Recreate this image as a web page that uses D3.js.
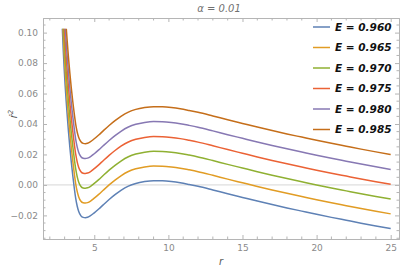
<!DOCTYPE html>
<html>
<head>
<meta charset="utf-8">
<script src="https://cdnjs.cloudflare.com/ajax/libs/d3/7.8.5/d3.min.js"></script>
<style>
  body{margin:0;background:#fff;}
  text{font-family:"DejaVu Sans",sans-serif;}
</style>
</head>
<body>
<div id="grafico"></div>
<script>
// radius values where the curves were read
const rVals=[2.84,2.90,2.96,3.03,3.10,3.18,3.26,3.35,3.45,3.55,3.65,3.75,3.85,3.95,4.10,4.25,4.40,4.55,4.75,5.00,5.30,5.60,6.00,6.40,6.80,7.30,7.80,8.40,9.00,9.60,10.20,10.80,11.40,12,13,14,15,16,17,18,19,20,21,22,23,24,25];

const e960=[0.1040,0.0900,0.0780,0.0660,0.0555,0.0450,0.0350,0.0250,0.0150,0.0060,-0.0020,-0.0090,-0.0140,-0.0175,-0.0203,-0.0213,-0.0215,-0.0212,-0.0202,-0.0183,-0.0158,-0.0131,-0.0096,-0.0064,-0.0036,-0.0008,0.0010,0.0022,0.0028,0.0027,0.0022,0.0014,0.0003,-0.0009,-0.0033,-0.0058,-0.0082,-0.0106,-0.0129,-0.0151,-0.0172,-0.0193,-0.0213,-0.0232,-0.0251,-0.0269,-0.0286];
const e965=[0.1136,0.0996,0.0876,0.0756,0.0651,0.0546,0.0446,0.0346,0.0246,0.0156,0.0076,0.0006,-0.0044,-0.0079,-0.0107,-0.0117,-0.0119,-0.0116,-0.0106,-0.0087,-0.0062,-0.0035,0.0000,0.0032,0.0060,0.0088,0.0106,0.0118,0.0124,0.0123,0.0118,0.0110,0.0099,0.0087,0.0063,0.0038,0.0014,-0.0010,-0.0033,-0.0055,-0.0076,-0.0097,-0.0117,-0.0136,-0.0155,-0.0173,-0.0190];
const e970=[0.1233,0.1093,0.0973,0.0853,0.0748,0.0643,0.0543,0.0443,0.0343,0.0253,0.0173,0.0103,0.0053,0.0018,-0.0010,-0.0020,-0.0022,-0.0019,-0.0009,0.0010,0.0035,0.0062,0.0097,0.0129,0.0157,0.0185,0.0203,0.0215,0.0221,0.0220,0.0215,0.0207,0.0196,0.0184,0.0160,0.0135,0.0111,0.0087,0.0064,0.0042,0.0021,0.0000,-0.0020,-0.0039,-0.0058,-0.0076,-0.0093];
const e975=[0.1330,0.1190,0.1070,0.0950,0.0845,0.0740,0.0640,0.0540,0.0440,0.0350,0.0270,0.0200,0.0150,0.0115,0.0087,0.0077,0.0075,0.0078,0.0088,0.0107,0.0132,0.0159,0.0194,0.0226,0.0254,0.0282,0.0300,0.0312,0.0318,0.0317,0.0312,0.0304,0.0293,0.0281,0.0257,0.0232,0.0208,0.0184,0.0161,0.0139,0.0118,0.0097,0.0077,0.0058,0.0039,0.0021,0.0004];
const e980=[0.1428,0.1288,0.1168,0.1048,0.0943,0.0838,0.0738,0.0638,0.0538,0.0448,0.0368,0.0298,0.0248,0.0213,0.0185,0.0175,0.0173,0.0176,0.0186,0.0205,0.0230,0.0257,0.0292,0.0324,0.0352,0.0380,0.0398,0.0410,0.0416,0.0415,0.0410,0.0402,0.0391,0.0379,0.0355,0.0330,0.0306,0.0282,0.0259,0.0237,0.0216,0.0195,0.0175,0.0156,0.0137,0.0119,0.0102];
const e985=[0.1526,0.1386,0.1266,0.1146,0.1041,0.0936,0.0836,0.0736,0.0636,0.0546,0.0466,0.0396,0.0346,0.0311,0.0283,0.0273,0.0271,0.0274,0.0284,0.0303,0.0328,0.0355,0.0390,0.0422,0.0450,0.0478,0.0496,0.0508,0.0514,0.0513,0.0508,0.0500,0.0489,0.0477,0.0453,0.0428,0.0404,0.0380,0.0357,0.0335,0.0314,0.0293,0.0273,0.0254,0.0235,0.0217,0.0200];

const seriesNames=["E = 0.960","E = 0.965","E = 0.970","E = 0.975","E = 0.980","E = 0.985"];
const seriesVals=[e960,e965,e970,e975,e980,e985];
const colors=["#5e81b5","#e19c24","#8fb032","#eb6235","#8778b3","#c56e1a"];

const xTicks=[5,10,15,20,25];
const yTicks=[-0.02,0,0.02,0.04,0.06,0.08,0.10];

const W=400, H=270;
const frame={left:43, right:399, top:18, bottom:239};
const clipTop=0.1025;

let svg=d3.select("#grafico")
  .append("svg")
    .attr("width",W)
    .attr("height",H);

// scales
let x=d3.scaleLinear().domain([1.54,25.56]).range([frame.left,frame.right]);
let y=d3.scaleLinear().domain([-0.0355,0.1096]).range([frame.bottom,frame.top]);

const gray="#b5b5b5";
const labelGray="#8a8a8a";

// zero axis line
svg.append("line")
  .attr("x1",frame.left).attr("x2",frame.right)
  .attr("y1",y(0)).attr("y2",y(0))
  .attr("stroke","#d6d6d6").attr("stroke-width",1);

// clip for the curves
svg.append("clipPath").attr("id","clip")
  .append("rect")
    .attr("x",frame.left).attr("y",y(clipTop))
    .attr("width",frame.right-frame.left)
    .attr("height",frame.bottom-y(clipTop));

let line=d3.line()
  .x((d)=>x(d[0]))
  .y((d)=>y(d[1]))
  .curve(d3.curveMonotoneX);

svg.append("g")
  .attr("clip-path","url(#clip)")
  .selectAll("path")
  .data(seriesVals)
  .enter()
  .append("path")
    .attr("d",(vals)=>line(rVals.map((r,i)=>[r,vals[i]])))
    .attr("fill","none")
    .attr("stroke",(d,i)=>colors[i])
    .attr("stroke-width",1.5);

// frame with inward ticks
let xMinor=d3.range(2,26,1).filter((v)=>v%5!==0);
let yMinor=d3.range(-0.035,0.1051,0.005).filter((v)=>Math.abs(Math.round(v*100)/100-v)>1e-6 || Math.round(v*1000)%20!==0);

let axisB=d3.axisBottom(x).tickValues(xTicks).tickSize(-4).tickPadding(6).tickFormat(d3.format("d"));
let axisT=d3.axisTop(x).tickValues(xTicks).tickSize(-4).tickFormat("");
let axisL=d3.axisLeft(y).tickValues(yTicks).tickSize(-4).tickPadding(5)
  .tickFormat((d)=>d===0?"0.00":d3.format(".2f")(d).replace("-","\u2212"));
let axisR=d3.axisRight(y).tickValues(yTicks).tickSize(-4).tickFormat("");

let gB=svg.append("g").attr("transform",`translate(0,${frame.bottom})`).call(axisB);
let gT=svg.append("g").attr("transform",`translate(0,${frame.top})`).call(axisT);
let gL=svg.append("g").attr("transform",`translate(${frame.left},0)`).call(axisL);
let gR=svg.append("g").attr("transform",`translate(${frame.right},0)`).call(axisR);

// minor ticks
gB.selectAll(".minor").data(xMinor).enter().append("line")
  .attr("x1",(d)=>x(d)).attr("x2",(d)=>x(d)).attr("y1",0).attr("y2",-2.5);
gT.selectAll(".minor").data(xMinor).enter().append("line")
  .attr("x1",(d)=>x(d)).attr("x2",(d)=>x(d)).attr("y1",0).attr("y2",2.5);
let yMinorVals=[];
for(let i=-7;i<=21;i++){ if(i%4!==0) yMinorVals.push(i*0.005); }
gL.selectAll(".minor").data(yMinorVals).enter().append("line")
  .attr("y1",(d)=>y(d)).attr("y2",(d)=>y(d)).attr("x1",0).attr("x2",2.5);
gR.selectAll(".minor").data(yMinorVals).enter().append("line")
  .attr("y1",(d)=>y(d)).attr("y2",(d)=>y(d)).attr("x1",0).attr("x2",-2.5);

[gB,gT,gL,gR].forEach((g)=>{
  g.selectAll("path.domain").attr("stroke",gray);
  g.selectAll("line").attr("stroke",gray);
  g.selectAll("text").attr("fill",labelGray).attr("font-size","9px").attr("font-family","DejaVu Sans, sans-serif");
});

// title
svg.append("text")
  .attr("x",219).attr("y",12)
  .attr("text-anchor","middle")
  .attr("font-size","10px")
  .attr("font-style","italic")
  .attr("fill","#707070")
  .text("\u03b1  = 0.01");

// axis labels
svg.append("text")
  .attr("x",221).attr("y",265)
  .attr("text-anchor","middle")
  .attr("font-size","10px")
  .attr("font-style","italic")
  .attr("fill","#555")
  .text("r");

let yl=svg.append("text")
  .attr("transform","translate(17,114) rotate(-90)")
  .attr("text-anchor","middle")
  .attr("font-size","10px")
  .attr("font-style","italic")
  .attr("fill","#555");
yl.append("tspan").text("\u1e59");
yl.append("tspan").attr("dy",-4).attr("font-size","7px").text("2");

// legend
let legend=svg.append("g").attr("id","legend");
let rowY=(i)=>27+i*20.5;
legend.selectAll("line").data(seriesNames).enter().append("line")
  .attr("x1",313).attr("x2",330)
  .attr("y1",(d,i)=>rowY(i)).attr("y2",(d,i)=>rowY(i))
  .attr("stroke",(d,i)=>colors[i]).attr("stroke-width",1.5);
legend.selectAll("text").data(seriesNames).enter().append("text")
  .attr("x",335).attr("y",(d,i)=>rowY(i)+3.5)
  .attr("font-size","10.5px")
  .attr("font-weight","bold")
  .attr("font-style","italic")
  .attr("fill","#111")
  .text((d)=>d);
</script>
</body>
</html>
